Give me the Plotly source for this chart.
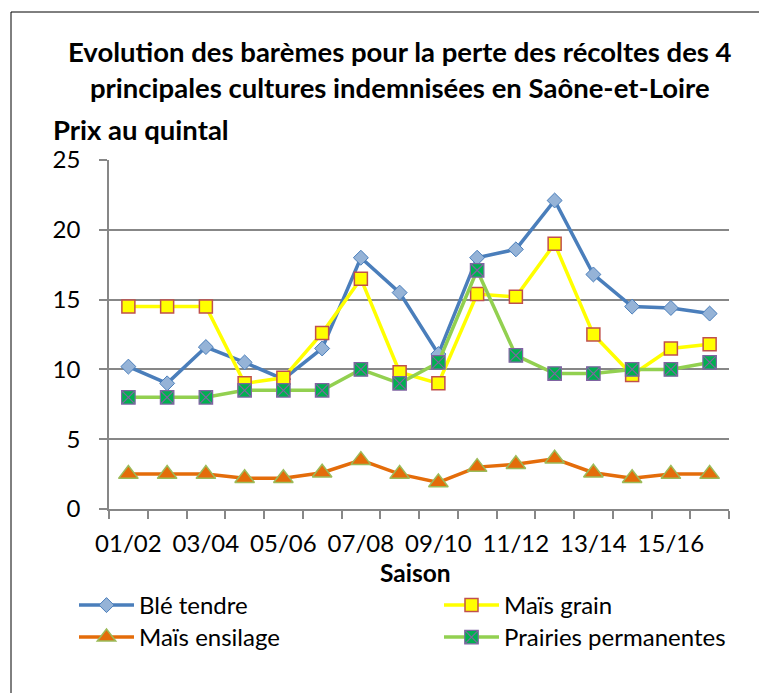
import plotly.graph_objects as go

seasons = ["01/02", "02/03", "03/04", "04/05", "05/06", "06/07", "07/08", "08/09",
           "09/10", "10/11", "11/12", "12/13", "13/14", "14/15", "15/16", "16/17"]
ble_tendre = [10.2, 9.0, 11.6, 10.5, 9.3, 11.5, 18.0, 15.5, 11.1, 18.0, 18.6, 22.1, 16.8, 14.5, 14.4, 14.0]
mais_grain = [14.5, 14.5, 14.5, 9.0, 9.4, 12.6, 16.5, 9.8, 9.0, 15.4, 15.2, 19.0, 12.5, 9.6, 11.5, 11.8]
mais_ensilage = [2.5, 2.5, 2.5, 2.2, 2.2, 2.6, 3.5, 2.5, 1.9, 3.0, 3.2, 3.6, 2.6, 2.2, 2.5, 2.5]
prairies = [8.0, 8.0, 8.0, 8.5, 8.5, 8.5, 10.0, 9.0, 10.5, 17.1, 11.0, 9.7, 9.7, 10.0, 10.0, 10.5]
y_ticks = [0, 5, 10, 15, 20, 25]

FONT = "Lato"
OFF = 8  # page body margin
W, H = 767 - OFF, 693 - OFF
# plot area in screen coordinates
SX0, SX1, SY0, SY1 = 109, 729, 160, 509
L, T = SX0 - OFF, SY0 - OFF
R, B = W - (SX1 - OFF), H - (SY1 - OFF)
pw, ph = W - L - R, H - T - B

def px_x(sx):
    return (sx - SX0) / pw

def px_y(sy):
    return (SY1 - sy) / ph

idx = list(range(len(seasons)))

fig = go.Figure()
fig.add_trace(go.Scatter(
    x=idx, y=ble_tendre, name="Blé tendre", mode="lines+markers", legend="legend",
    line=dict(color="#4A7EBB", width=3.5),
    marker=dict(symbol="diamond", size=11.5, color="#95B3D7", line=dict(color="#4A7EBB", width=1))))
fig.add_trace(go.Scatter(
    x=idx, y=mais_grain, name="Maïs grain", mode="lines+markers", legend="legend2",
    line=dict(color="#FFFF00", width=3.5),
    marker=dict(symbol="square", size=13, color="#FFFF00", line=dict(color="#C0504D", width=1.5))))
fig.add_trace(go.Scatter(
    x=idx, y=mais_ensilage, name="Maïs ensilage", mode="lines+markers", legend="legend3",
    line=dict(color="#E46C0A", width=3.5),
    marker=dict(symbol="triangle-up", size=17, color="#E46C0A", line=dict(color="#9BBB59", width=1.5))))
fig.add_trace(go.Scatter(
    x=idx, y=prairies, name="Prairies permanentes", mode="lines+markers", legend="legend4",
    line=dict(color="#92D050", width=3.5),
    marker=dict(symbol="square-x", size=13.5, color="#00B050", line=dict(color="#8064A2", width=1.2))))

leg_common = dict(orientation="v", xanchor="left", yanchor="top", itemwidth=55,
                  font=dict(family=FONT, size=24, color="black"), tracegroupgap=0,
                  bgcolor="rgba(0,0,0,0)")
row1_top, row2_top = 583, 615
col1_x, col2_x = 74, 439

fig.update_layout(
    width=W, height=H,
    margin=dict(l=L, r=R, t=T, b=B, pad=0, autoexpand=False),
    paper_bgcolor="white", plot_bgcolor="white",
    font=dict(family=FONT, size=24, color="black"),
    showlegend=True,
    legend=dict(x=px_x(col1_x), y=px_y(row1_top), **leg_common),
    legend2=dict(x=px_x(col2_x), y=px_y(row1_top), **leg_common),
    legend3=dict(x=px_x(col1_x), y=px_y(row2_top), **leg_common),
    legend4=dict(x=px_x(col2_x), y=px_y(row2_top), **leg_common),
    xaxis=dict(range=[-0.5, 15.5], tickmode="array", tickvals=idx[::2], ticktext=seasons[::2],
               showgrid=False, zeroline=False, showline=True, linecolor="#878787", linewidth=1.5,
               ticks="", ticklabelstandoff=12,
               tickfont=dict(family=FONT, size=24),
               minor=dict(tick0=-0.5, dtick=1, ticks="outside", ticklen=8, tickcolor="#878787",
                          tickwidth=1.5, showgrid=False)),
    yaxis=dict(range=[0, 25], tickmode="array", tickvals=y_ticks,
               showgrid=True, gridcolor="#878787", gridwidth=1.5, zeroline=False,
               showline=True, linecolor="#878787", linewidth=1.5,
               ticks="outside", ticklen=8, tickcolor="#878787", tickwidth=1.5,
               ticklabelstandoff=14, tickfont=dict(family=FONT, size=24)),
    annotations=[
        dict(text="<b>Evolution des barèmes pour la perte des récoltes des 4<br>principales cultures indemnisées en Saône-et-Loire</b>",
             xref="paper", yref="paper", x=px_x(400), y=px_y(69), xanchor="center", yanchor="middle",
             showarrow=False, font=dict(family=FONT, size=27.5), align="center"),
        dict(text="<b>Prix au quintal</b>", xref="paper", yref="paper", x=px_x(51), y=px_y(130),
             xanchor="left", yanchor="middle", showarrow=False, font=dict(family=FONT, size=27.5)),
        dict(text="<b>Saison</b>", xref="paper", yref="paper", x=px_x(415), y=px_y(572),
             xanchor="center", yanchor="middle", showarrow=False, font=dict(family=FONT, size=24.5)),
    ],
    shapes=[dict(type="rect", xref="paper", yref="paper", x0=px_x(11), y0=px_y(720), x1=px_x(790), y1=px_y(12),
                 line=dict(color="black", width=1), fillcolor="rgba(0,0,0,0)", layer="below")],
)

fig.write_html("out.html")
